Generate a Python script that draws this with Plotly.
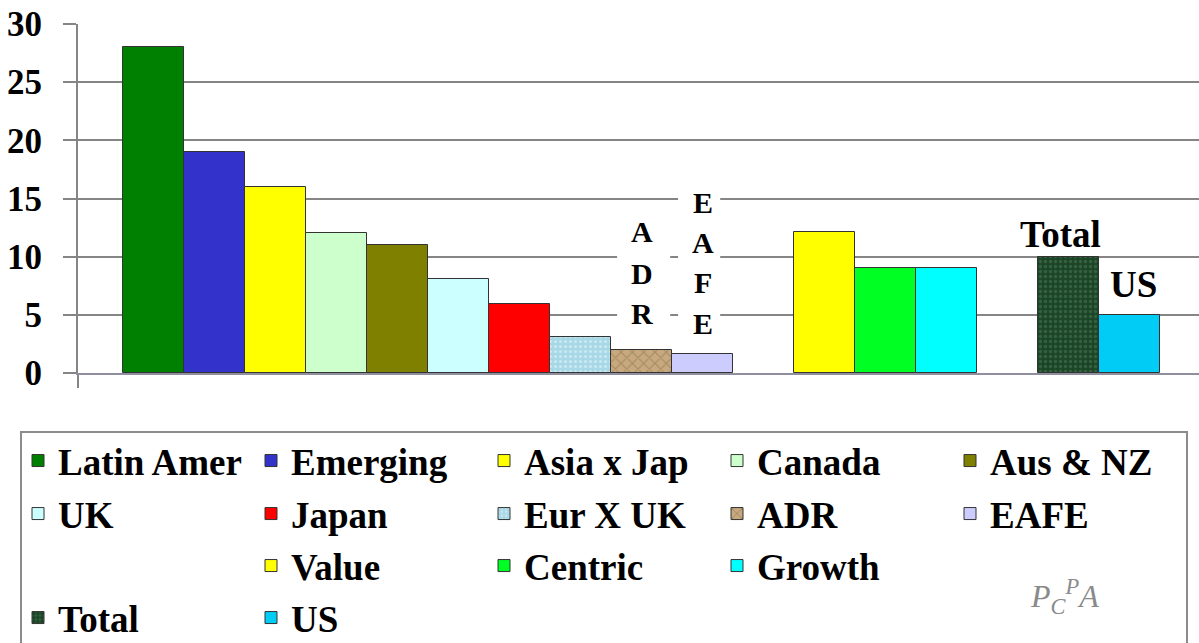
import plotly.graph_objects as go

# ---------------- data ----------------
categories = ["Latin Amer", "Emerging", "Asia x Jap", "Canada", "Aus & NZ",
              "UK", "Japan", "Eur X UK", "ADR", "EAFE",
              "Value", "Centric", "Growth",
              "Total", "US"]
values = [28, 19, 16, 12, 11, 8.1, 5.9, 3.1, 2, 1.6,
          12.1, 9, 9,
          10, 5]
group_sizes = [10, 3, 2]

legend_grid = [
    ["Latin Amer", "Emerging", "Asia x Jap", "Canada", "Aus & NZ"],
    ["UK", "Japan", "Eur X UK", "ADR", "EAFE"],
    [None, "Value", "Centric", "Growth", None],
    ["Total", "US", None, None, None],
]

# ---------------- styles ----------------
colors = {
    "Latin Amer": "#008000", "Emerging": "#3333cc", "Asia x Jap": "#ffff00",
    "Canada": "#ccffcc", "Aus & NZ": "#808000", "UK": "#ccffff",
    "Japan": "#ff0000", "Eur X UK": "#a8d8e6", "ADR": "#c8a87e",
    "EAFE": "#ccccff", "Value": "#ffff00", "Centric": "#00ff22",
    "Growth": "#00ffff", "Total": "#1c4527", "US": "#00ccf5",
}
patterns = {
    "Eur X UK": dict(shape=".", bgcolor="#a8d8e6", fgcolor="#e8f8ff", size=5, solidity=0.3),
    "ADR": dict(shape="x", bgcolor="#c8a87e", fgcolor="#7d6e42", size=8, solidity=0.25),
    "Total": dict(shape=".", bgcolor="#1c4527", fgcolor="#4d7d5a", size=5, solidity=0.35),
}

W, H = 1199, 643
PL, PR, PT, PB = 78, 1199, 24, 373


def paper_x(px):
    return (px - PL) / (PR - PL)


def paper_y(py):
    return (PB - py) / (PB - PT)


SERIF = "Liberation Serif, Times New Roman, serif"
GRID = "#858585"

# bar positions: groups separated by one empty slot
positions = []
p = 0
for g in group_sizes:
    for _ in range(g):
        positions.append(p)
        p += 1
    p += 1
x_min = positions[0] - 0.5 - 45 / 61
x_max = positions[-1] + 0.5 + 39 / 61

# legend cell lookup
cell = {}
for r, row in enumerate(legend_grid):
    for c, name in enumerate(row):
        if name:
            cell[name] = (r, c)
row_centers = [461, 514, 566, 618]
col_swatch_left = 32
col_step = 233

fig = go.Figure()
layout_legends = {}
for i, (cat, val, x) in enumerate(zip(categories, values, positions)):
    lid = "legend" if i == 0 else f"legend{i + 1}"
    marker = dict(color=colors[cat], line=dict(color="#333333", width=1))
    if cat in patterns:
        marker["pattern"] = patterns[cat]
    fig.add_trace(go.Bar(x=[x], y=[val], name=cat, width=1, marker=marker,
                         legend=lid, showlegend=True))
    r, c = cell[cat]
    layout_legends[lid] = dict(
        x=paper_x(col_swatch_left + col_step * c - 14), xanchor="left",
        y=paper_y(row_centers[r]), yanchor="middle",
        bgcolor="rgba(0,0,0,0)", borderwidth=0,
        font=dict(family=SERIF, size=37, color="black", weight="bold"),
    )

fig.update_layout(**layout_legends)

fig.update_layout(
    width=W, height=H,
    margin=dict(l=PL, r=W - PR, t=PT, b=H - PB, autoexpand=False),
    paper_bgcolor="white", plot_bgcolor="white",
    barmode="overlay", bargap=0,
    showlegend=True,
    font=dict(family=SERIF),
)

fig.update_yaxes(
    range=[0, 30], tickvals=[0, 5, 10, 15, 20, 25, 30],
    showgrid=True, gridcolor=GRID, gridwidth=2,
    zeroline=False, showline=True, linecolor=GRID, linewidth=2,
    ticks="outside", ticklen=13, tickwidth=2, tickcolor=GRID,
    ticklabelstandoff=14,
    tickfont=dict(family=SERIF, size=35, color="black", weight="bold"),
)
fig.update_xaxes(
    range=[x_min, x_max], showgrid=False, zeroline=False,
    showline=True, linecolor="#8f8f9f", linewidth=2,
    tickvals=[x_min], ticks="outside", ticklen=13, tickwidth=2, tickcolor=GRID,
    showticklabels=False,
)

# white backing behind the vertical ADR / EAFE captions
adr_x = positions[categories.index("ADR")]
eafe_x = positions[categories.index("EAFE")]
fig.add_shape(type="rect", xref="x", yref="y", x0=adr_x - 0.40, x1=adr_x + 0.47,
              y0=3.3, y1=14.0, fillcolor="white", line_width=0, layer="between")
fig.add_shape(type="rect", xref="x", yref="y", x0=eafe_x - 0.40, x1=eafe_x + 0.29,
              y0=2.5, y1=16.3, fillcolor="white", line_width=0, layer="between")

letter_font = dict(family=SERIF, size=30, color="black", weight="bold")
for ch, py in zip("ADR", [232, 273, 313]):
    fig.add_annotation(x=adr_x, xref="x", y=paper_y(py), yref="paper", text=ch,
                       showarrow=False, font=letter_font, xanchor="center", yanchor="middle")
for ch, py in zip("EAFE", [202, 242, 282, 323]):
    fig.add_annotation(x=eafe_x, xref="x", y=paper_y(py), yref="paper", text=ch,
                       showarrow=False, font=letter_font, xanchor="center", yanchor="middle")

big_font = dict(family=SERIF, size=37, color="black", weight="bold")
tot_i = categories.index("Total")
us_i = categories.index("US")
fig.add_annotation(x=positions[tot_i], y=values[tot_i], text="Total", showarrow=False,
                   font=big_font, xanchor="center", yanchor="middle", xshift=-8, yshift=22)
fig.add_annotation(x=positions[us_i], y=values[us_i], text="US", showarrow=False,
                   font=big_font, xanchor="center", yanchor="middle", xshift=4, yshift=30)

# legend frame
fig.add_shape(type="rect", xref="paper", yref="paper",
              x0=paper_x(21), x1=paper_x(1187), y0=paper_y(432), y1=paper_y(700),
              line=dict(color="#8c8c8c", width=2), fillcolor="rgba(0,0,0,0)", layer="above")

# PCPA logo
logo_font = dict(family=SERIF, size=32, color="#8a8a8a", style="italic")
fig.add_annotation(
    x=paper_x(1064), y=paper_y(596), xref="paper", yref="paper",
    text="P<sub>C</sub><sup>P</sup>A",
    showarrow=False, font=logo_font, xanchor="center", yanchor="middle")

fig.write_html("out.html", config={"displayModeBar": False})
